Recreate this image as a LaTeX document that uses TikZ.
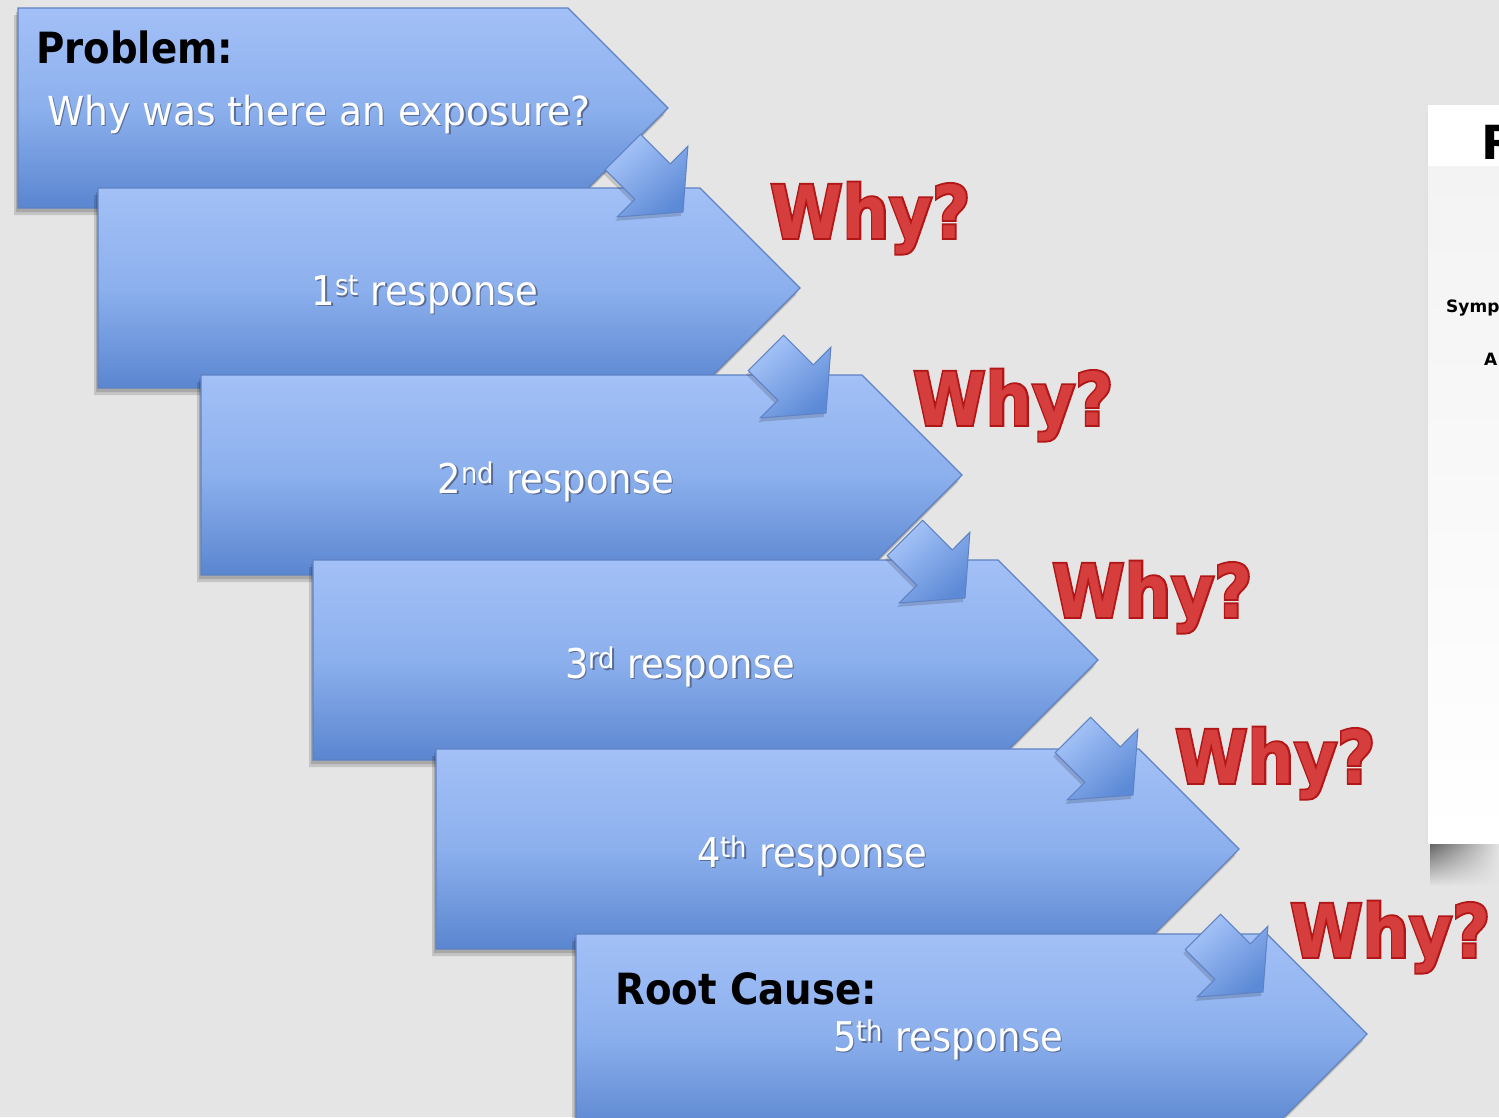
\documentclass[tikz,border=0pt]{standalone}
\usepackage{fontspec}
\setmainfont{DejaVu Sans}
\usetikzlibrary{fadings}
\definecolor{bg}{RGB}{229,229,229}
\definecolor{chtop}{RGB}{163,192,247}
\definecolor{chmid}{RGB}{140,176,237}
\definecolor{chbot}{RGB}{90,134,208}
\definecolor{chline}{RGB}{95,130,195}
\definecolor{arlight}{RGB}{168,197,249}
\definecolor{ardark}{RGB}{92,138,214}
\definecolor{whyfill}{RGB}{214,62,62}
\definecolor{whyline}{RGB}{178,22,22}
\definecolor{paneltop}{RGB}{243,243,243}
\definecolor{txtshadow}{RGB}{88,108,150}
\font\whyA="DejaVu Sans/B" at 73pt
\font\whyB="DejaVu Sans/B:embolden=5" at 73pt
\newcommand\sx[1]{\scalebox{0.9}[1]{#1}}
\newcommand\shtxt[1]{\rlap{\kern1.6pt\raisebox{-1.8pt}{\color{txtshadow}#1}}#1}
\newcommand\whytxt{\sx{\rlap{\whyB\color{whyline}Why?}\whyA\color{whyfill}Why?}}
\newcommand\chevshape[3]{(#1,#2) -- ({#3-100},#2) -- (#3,{#2+100}) -- ({#3-100},{#2+200}) -- (#1,{#2+200}) -- cycle}
\newcommand\arrowshape[2]{(#1,#2) -- ({#1+4.9},{#2-65.8}) -- ({#1-12.7},{#2-48.1}) -- ({#1-42.4},{#2-77.8}) -- ({#1-77.8},{#2-42.4}) -- ({#1-48.1},{#2-12.7}) -- ({#1-65.8},{#2+4.9}) -- cycle}
\tikzset{
  chev/.style={top color=chtop, bottom color=chbot, middle color=chmid, draw=chline, line width=1.1pt},
  chevshadow/.style={fill=black, opacity=0.14},
  blockarrow/.style={top color=arlight, bottom color=ardark, shading angle=40, draw=chline, line width=1pt},
  txt/.style={inner sep=0pt, text=white, font=\fontsize{41}{46}\selectfont},
  boldtxt/.style={inner sep=0pt, text=black, font=\bfseries\fontsize{43}{48}\selectfont},
  whynode/.style={inner sep=0pt, anchor=base west},
  paneltxt/.style={inner sep=0pt, anchor=base west, text=black, font=\bfseries\fontsize{17}{20}\selectfont}
}
\begin{document}
\begin{tikzpicture}[x=1pt,y=-1pt]
\useasboundingbox (0,0) rectangle (1499,1117);
\clip (0,0) rectangle (1499,1117);
\fill[bg] (0,0) rectangle (1499,1117);

% right panel with soft shadow
\shade[left color=bg, right color=black!12] (1421,112) rectangle (1428,843);
\shade[top color=black!62, bottom color=bg, path fading=east] (1430,843) rectangle (1499,886);
\fill[white] (1428,105) rectangle (1499,843);
\shade[top color=paneltop, bottom color=white] (1428,166) rectangle (1499,843);
\node[anchor=base west, inner sep=0pt, font=\bfseries\fontsize{47}{50}\selectfont] (pR) at (1481,159) {R};
\node[paneltxt] (pSymp) at (1446,312) {Symp};
\node[paneltxt] (pA) at (1484,365) {A};

% chevrons with shadows
\foreach \L/\T/\X in {18/8/668, 98/188/800, 201/375/962, 313/560/1098, 436/749/1239, 576/934/1367}{
  \fill[chevshadow, shift={(-2,4)}] \chevshape{\L}{\T}{\X};
  \fill[chevshadow, shift={(-4,7)}] \chevshape{\L}{\T}{\X};
  \path[chev] \chevshape{\L}{\T}{\X};
}

% small block arrows
\foreach \tx/\ty in {683/212, 826/413, 965/598, 1133/795, 1263/992}{
  \fill[black, opacity=0.15, shift={(-2,4)}] \arrowshape{\tx}{\ty};
  \path[blockarrow] \arrowshape{\tx}{\ty};
}

% texts
\node[boldtxt, anchor=base west] (problem) at (36,63) {\sx{Problem:}};
\node[txt, anchor=base west, font=\fontsize{40}{45}\selectfont] (question) at (47,125) {\scalebox{0.94}[1]{\shtxt{Why was there an exposure?}}};
\node[txt, anchor=base] (r1) at (425,305) {\sx{\shtxt{1\textsuperscript{st} response}}};
\node[txt, anchor=base] (r2) at (556,493) {\sx{\shtxt{2\textsuperscript{nd} response}}};
\node[txt, anchor=base] (r3) at (680,678) {\sx{\shtxt{3\textsuperscript{rd} response}}};
\node[txt, anchor=base] (r4) at (812,867) {\sx{\shtxt{4\textsuperscript{th} response}}};
\node[boldtxt, anchor=base west] (root) at (615,1004) {\sx{Root Cause:}};
\node[txt, anchor=base west] (r5) at (833,1051) {\sx{\shtxt{5\textsuperscript{th} response}}};

\node[whynode] (why1) at (770,238) {\whytxt};
\node[whynode] (why2) at (913,425) {\whytxt};
\node[whynode] (why3) at (1052,617) {\whytxt};
\node[whynode] (why4) at (1175,783) {\whytxt};
\node[whynode] (why5) at (1290,957) {\whytxt};
\end{tikzpicture}
\end{document}
